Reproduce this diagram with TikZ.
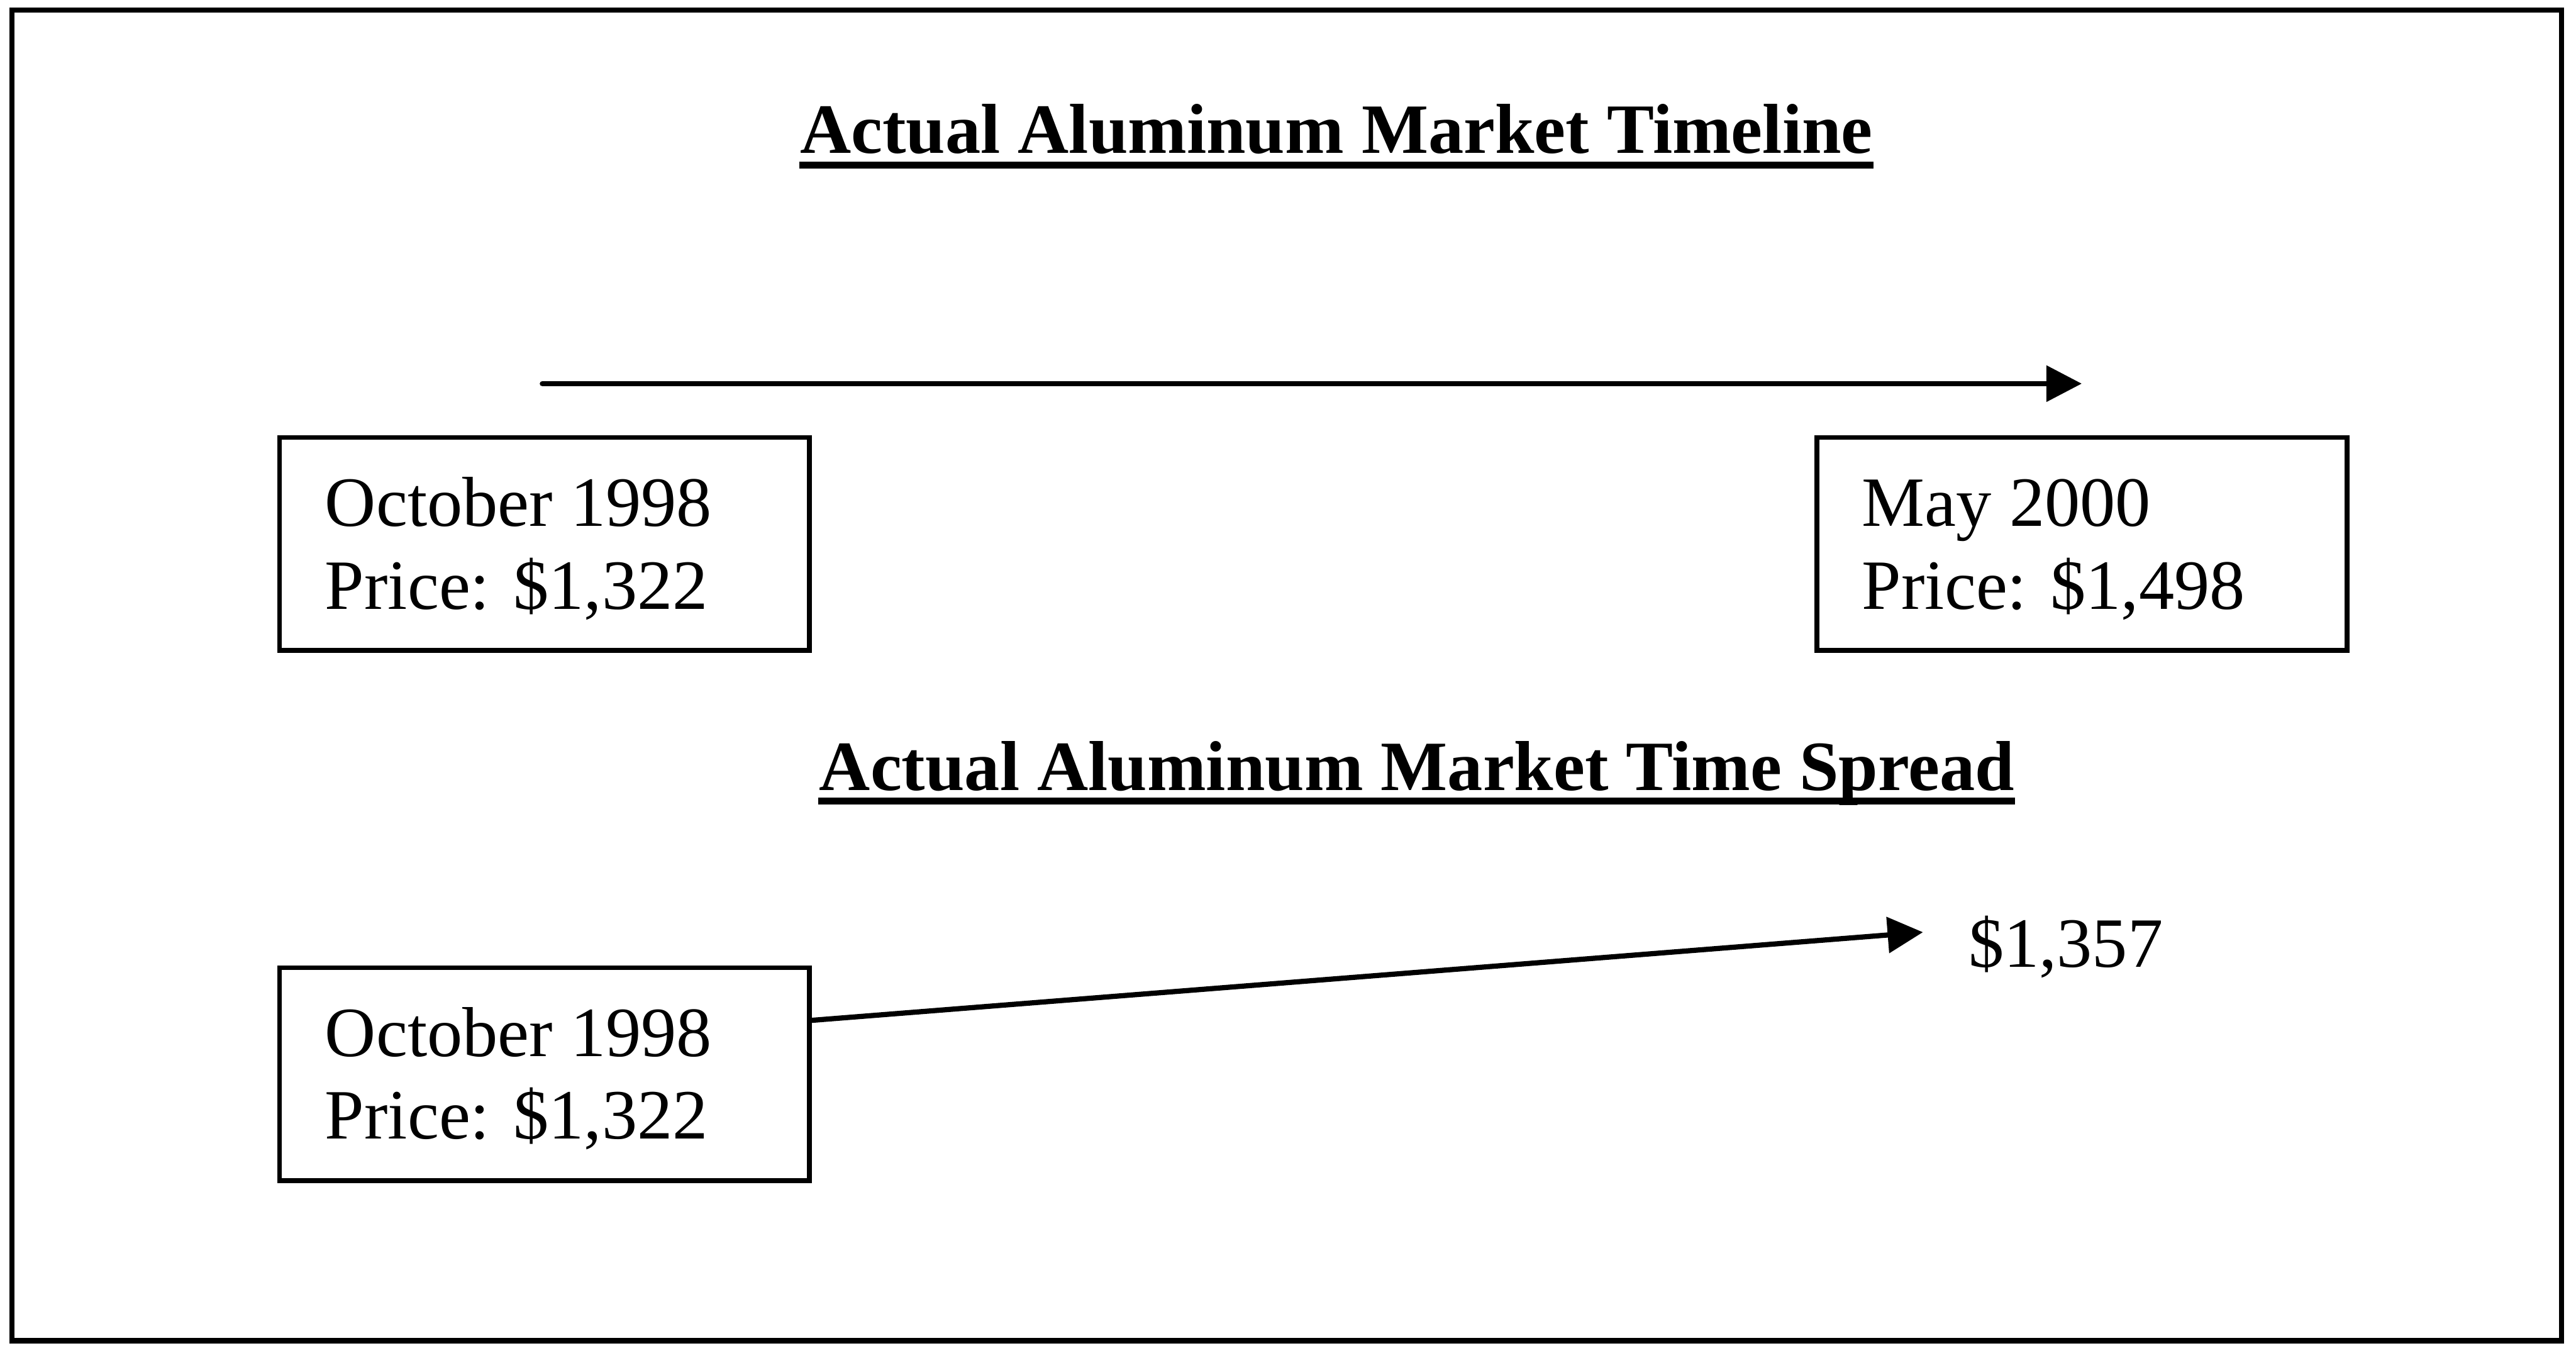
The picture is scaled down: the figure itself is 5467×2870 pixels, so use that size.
\documentclass[tikz,border=0pt]{standalone}
\usepackage{fontspec}
\setmainfont{Liberation Serif}
\usetikzlibrary{arrows.meta}
\begin{document}
\begin{tikzpicture}[x=0.1pt,y=-0.1pt,
 frame/.style={draw, line width=1.1pt},
 pricebox/.style={draw, line width=1pt, minimum width=112.5pt, minimum height=45.2pt, inner sep=0pt},
 boxtext/.style={inner sep=0pt, align=left, font=\fontsize{15pt}{17.5pt}\selectfont},
 titletext/.style={inner sep=0pt, font=\fontsize{15pt}{17.5pt}\selectfont\bfseries},
 uline/.style={line width=1.5pt},
 conn/.style={line width=1.1pt, -{Triangle[length=7.5pt,width=7.5pt]}},
]
\useasboundingbox (0,0) rectangle (5467,2870);
\draw[frame] (25,21) rectangle (5436,2845);

% titles
\node[titletext, anchor=base west] (t1) at (1696,325) {Actual Aluminum Market Timeline};
\draw[uline] ([yshift=-2.5pt]t1.base west) -- ([yshift=-2.5pt]t1.base east);
\node[titletext, anchor=base west] (t2) at (1737,1677) {Actual Aluminum Market Time Spread};
\draw[uline] ([yshift=-2.3pt]t2.base west) -- ([yshift=-2.3pt]t2.base east);

% boxes (base anchor = baseline of the last line)
\node[pricebox] (b1) at (1155.5,1154) {};
\node[boxtext, anchor=base west] (b1t) at (688,1292) {October 1998\\Price: \$1,322};
\node[pricebox] (b2) at (4418.5,1154) {};
\node[boxtext, anchor=base west] (b2t) at (3950,1292) {May 2000\\Price: \$1,498};
\node[pricebox] (b3) at (1155.5,2279.5) {};
\node[boxtext, anchor=base west] (b3t) at (688,2417) {October 1998\\Price: \$1,322};
\node[boxtext, anchor=base west] (p) at (4176,2052) {\$1,357};

% connectors
\coordinate (a1s) at (1151,814);
\coordinate (a1e) at (4418,814);
\draw[conn, line cap=round] (a1s) -- (a1e);
\coordinate (a2s) at (b3.east |- 0,2165);
\coordinate (a2e) at (4081,1978);
\draw[conn] (a2s) -- (a2e);
\end{tikzpicture}
\end{document}
